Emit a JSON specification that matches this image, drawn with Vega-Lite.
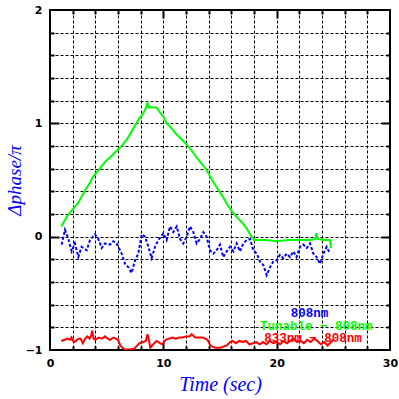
{
  "$schema": "https://vega.github.io/schema/vega-lite/v6.json",
  "autosize": "none",
  "width": 340,
  "height": 340,
  "padding": {"left": 50, "top": 10, "right": 9, "bottom": 49},
  "background": "white",
  "config": {"view": {"stroke": "black", "strokeWidth": 2}},
  "datasets": {
    "lines": [
      {"series": "808nm", "t": 1.03, "v": -0.07},
      {"series": "808nm", "t": 1.32, "v": 0.06},
      {"series": "808nm", "t": 1.62, "v": -0.02},
      {"series": "808nm", "t": 1.91, "v": -0.13},
      {"series": "808nm", "t": 2.2, "v": -0.06},
      {"series": "808nm", "t": 2.5, "v": -0.18},
      {"series": "808nm", "t": 2.79, "v": -0.09},
      {"series": "808nm", "t": 3.24, "v": -0.12},
      {"series": "808nm", "t": 3.53, "v": -0.03},
      {"series": "808nm", "t": 3.97, "v": 0.02},
      {"series": "808nm", "t": 4.26, "v": -0.02},
      {"series": "808nm", "t": 4.56, "v": -0.1},
      {"series": "808nm", "t": 4.85, "v": -0.06},
      {"series": "808nm", "t": 5.29, "v": -0.07},
      {"series": "808nm", "t": 5.59, "v": -0.04},
      {"series": "808nm", "t": 5.88, "v": -0.06},
      {"series": "808nm", "t": 6.32, "v": -0.15},
      {"series": "808nm", "t": 6.62, "v": -0.24},
      {"series": "808nm", "t": 6.91, "v": -0.27},
      {"series": "808nm", "t": 7.2, "v": -0.32},
      {"series": "808nm", "t": 7.5, "v": -0.21},
      {"series": "808nm", "t": 7.79, "v": -0.15},
      {"series": "808nm", "t": 8.09, "v": 0.02},
      {"series": "808nm", "t": 8.38, "v": 0.0},
      {"series": "808nm", "t": 8.68, "v": -0.09},
      {"series": "808nm", "t": 8.97, "v": -0.19},
      {"series": "808nm", "t": 9.26, "v": -0.09},
      {"series": "808nm", "t": 9.56, "v": -0.03},
      {"series": "808nm", "t": 10.0, "v": 0.03},
      {"series": "808nm", "t": 10.29, "v": -0.03},
      {"series": "808nm", "t": 10.59, "v": 0.09},
      {"series": "808nm", "t": 10.88, "v": 0.04},
      {"series": "808nm", "t": 11.18, "v": 0.09},
      {"series": "808nm", "t": 11.47, "v": -0.02},
      {"series": "808nm", "t": 11.76, "v": -0.06},
      {"series": "808nm", "t": 12.06, "v": 0.0},
      {"series": "808nm", "t": 12.35, "v": 0.09},
      {"series": "808nm", "t": 12.65, "v": 0.04},
      {"series": "808nm", "t": 12.94, "v": -0.06},
      {"series": "808nm", "t": 13.24, "v": -0.02},
      {"series": "808nm", "t": 13.53, "v": 0.04},
      {"series": "808nm", "t": 13.82, "v": 0.0},
      {"series": "808nm", "t": 14.12, "v": -0.12},
      {"series": "808nm", "t": 14.41, "v": -0.15},
      {"series": "808nm", "t": 14.7, "v": -0.12},
      {"series": "808nm", "t": 15.0, "v": -0.07},
      {"series": "808nm", "t": 15.29, "v": -0.18},
      {"series": "808nm", "t": 15.59, "v": -0.13},
      {"series": "808nm", "t": 15.88, "v": -0.09},
      {"series": "808nm", "t": 16.18, "v": -0.13},
      {"series": "808nm", "t": 16.47, "v": -0.06},
      {"series": "808nm", "t": 16.76, "v": -0.13},
      {"series": "808nm", "t": 17.06, "v": -0.06},
      {"series": "808nm", "t": 17.35, "v": -0.03},
      {"series": "808nm", "t": 17.65, "v": -0.02},
      {"series": "808nm", "t": 17.94, "v": -0.12},
      {"series": "808nm", "t": 18.24, "v": -0.15},
      {"series": "808nm", "t": 18.53, "v": -0.22},
      {"series": "808nm", "t": 18.82, "v": -0.25},
      {"series": "808nm", "t": 19.12, "v": -0.34},
      {"series": "808nm", "t": 19.41, "v": -0.27},
      {"series": "808nm", "t": 19.7, "v": -0.22},
      {"series": "808nm", "t": 20.0, "v": -0.21},
      {"series": "808nm", "t": 20.29, "v": -0.16},
      {"series": "808nm", "t": 20.59, "v": -0.19},
      {"series": "808nm", "t": 20.88, "v": -0.15},
      {"series": "808nm", "t": 21.18, "v": -0.18},
      {"series": "808nm", "t": 21.47, "v": -0.13},
      {"series": "808nm", "t": 21.76, "v": -0.18},
      {"series": "808nm", "t": 22.06, "v": -0.09},
      {"series": "808nm", "t": 22.35, "v": -0.07},
      {"series": "808nm", "t": 22.65, "v": -0.1},
      {"series": "808nm", "t": 22.94, "v": -0.06},
      {"series": "808nm", "t": 23.24, "v": -0.15},
      {"series": "808nm", "t": 23.53, "v": -0.18},
      {"series": "808nm", "t": 23.82, "v": -0.24},
      {"series": "808nm", "t": 24.12, "v": -0.15},
      {"series": "808nm", "t": 24.41, "v": -0.09},
      {"series": "808nm", "t": 24.71, "v": -0.15},
      {"series": "Tunable − 808nm", "t": 1.0, "v": 0.09},
      {"series": "Tunable − 808nm", "t": 1.5, "v": 0.18},
      {"series": "Tunable − 808nm", "t": 2.0, "v": 0.24},
      {"series": "Tunable − 808nm", "t": 2.5, "v": 0.3},
      {"series": "Tunable − 808nm", "t": 3.1, "v": 0.41},
      {"series": "Tunable − 808nm", "t": 3.5, "v": 0.47},
      {"series": "Tunable − 808nm", "t": 3.8, "v": 0.53},
      {"series": "Tunable − 808nm", "t": 4.3, "v": 0.59},
      {"series": "Tunable − 808nm", "t": 4.85, "v": 0.66},
      {"series": "Tunable − 808nm", "t": 5.4, "v": 0.71},
      {"series": "Tunable − 808nm", "t": 5.9, "v": 0.76},
      {"series": "Tunable − 808nm", "t": 6.4, "v": 0.81},
      {"series": "Tunable − 808nm", "t": 6.8, "v": 0.86},
      {"series": "Tunable − 808nm", "t": 7.1, "v": 0.91},
      {"series": "Tunable − 808nm", "t": 7.5, "v": 0.98},
      {"series": "Tunable − 808nm", "t": 7.8, "v": 1.03},
      {"series": "Tunable − 808nm", "t": 8.1, "v": 1.07},
      {"series": "Tunable − 808nm", "t": 8.4, "v": 1.12},
      {"series": "Tunable − 808nm", "t": 8.6, "v": 1.18},
      {"series": "Tunable − 808nm", "t": 8.7, "v": 1.14},
      {"series": "Tunable − 808nm", "t": 9.4, "v": 1.14},
      {"series": "Tunable − 808nm", "t": 9.6, "v": 1.11},
      {"series": "Tunable − 808nm", "t": 10.0, "v": 1.06},
      {"series": "Tunable − 808nm", "t": 10.3, "v": 1.0},
      {"series": "Tunable − 808nm", "t": 10.6, "v": 0.97},
      {"series": "Tunable − 808nm", "t": 11.0, "v": 0.92},
      {"series": "Tunable − 808nm", "t": 11.4, "v": 0.88},
      {"series": "Tunable − 808nm", "t": 12.0, "v": 0.82},
      {"series": "Tunable − 808nm", "t": 12.5, "v": 0.76},
      {"series": "Tunable − 808nm", "t": 13.0, "v": 0.69},
      {"series": "Tunable − 808nm", "t": 13.5, "v": 0.63},
      {"series": "Tunable − 808nm", "t": 13.8, "v": 0.59},
      {"series": "Tunable − 808nm", "t": 14.3, "v": 0.5},
      {"series": "Tunable − 808nm", "t": 14.8, "v": 0.42},
      {"series": "Tunable − 808nm", "t": 15.2, "v": 0.36},
      {"series": "Tunable − 808nm", "t": 15.6, "v": 0.29},
      {"series": "Tunable − 808nm", "t": 16.0, "v": 0.23},
      {"series": "Tunable − 808nm", "t": 16.5, "v": 0.17},
      {"series": "Tunable − 808nm", "t": 17.0, "v": 0.12},
      {"series": "Tunable − 808nm", "t": 17.3, "v": 0.08},
      {"series": "Tunable − 808nm", "t": 17.6, "v": 0.03},
      {"series": "Tunable − 808nm", "t": 17.8, "v": 0.0},
      {"series": "Tunable − 808nm", "t": 18.0, "v": -0.03},
      {"series": "Tunable − 808nm", "t": 19.0, "v": -0.03},
      {"series": "Tunable − 808nm", "t": 20.0, "v": -0.04},
      {"series": "Tunable − 808nm", "t": 21.0, "v": -0.03},
      {"series": "Tunable − 808nm", "t": 22.0, "v": -0.03},
      {"series": "Tunable − 808nm", "t": 23.0, "v": -0.03},
      {"series": "Tunable − 808nm", "t": 23.4, "v": -0.02},
      {"series": "Tunable − 808nm", "t": 23.5, "v": 0.03},
      {"series": "Tunable − 808nm", "t": 23.6, "v": -0.02},
      {"series": "Tunable − 808nm", "t": 24.2, "v": -0.03},
      {"series": "Tunable − 808nm", "t": 24.7, "v": -0.03},
      {"series": "Tunable − 808nm", "t": 24.8, "v": -0.1},
      {"series": "833nm − 808nm", "t": 1.0, "v": -0.92},
      {"series": "833nm − 808nm", "t": 1.3, "v": -0.91},
      {"series": "833nm − 808nm", "t": 1.5, "v": -0.9},
      {"series": "833nm − 808nm", "t": 1.8, "v": -0.91},
      {"series": "833nm − 808nm", "t": 1.9, "v": -0.89},
      {"series": "833nm − 808nm", "t": 2.1, "v": -0.93},
      {"series": "833nm − 808nm", "t": 2.3, "v": -0.92},
      {"series": "833nm − 808nm", "t": 2.5, "v": -0.9},
      {"series": "833nm − 808nm", "t": 2.7, "v": -0.9},
      {"series": "833nm − 808nm", "t": 2.9, "v": -0.94},
      {"series": "833nm − 808nm", "t": 3.1, "v": -0.9},
      {"series": "833nm − 808nm", "t": 3.3, "v": -0.88},
      {"series": "833nm − 808nm", "t": 3.5, "v": -0.9},
      {"series": "833nm − 808nm", "t": 3.65, "v": -0.87},
      {"series": "833nm − 808nm", "t": 3.72, "v": -0.83},
      {"series": "833nm − 808nm", "t": 3.85, "v": -0.9},
      {"series": "833nm − 808nm", "t": 4.0, "v": -0.91},
      {"series": "833nm − 808nm", "t": 4.3, "v": -0.89},
      {"series": "833nm − 808nm", "t": 4.6, "v": -0.9},
      {"series": "833nm − 808nm", "t": 4.85, "v": -0.88},
      {"series": "833nm − 808nm", "t": 5.1, "v": -0.9},
      {"series": "833nm − 808nm", "t": 5.3, "v": -0.91},
      {"series": "833nm − 808nm", "t": 5.6, "v": -0.89},
      {"series": "833nm − 808nm", "t": 5.8, "v": -0.9},
      {"series": "833nm − 808nm", "t": 6.0, "v": -0.91},
      {"series": "833nm − 808nm", "t": 6.2, "v": -0.96},
      {"series": "833nm − 808nm", "t": 6.4, "v": -0.98},
      {"series": "833nm − 808nm", "t": 6.6, "v": -0.995},
      {"series": "833nm − 808nm", "t": 7.0, "v": -0.995},
      {"series": "833nm − 808nm", "t": 7.4, "v": -0.99},
      {"series": "833nm − 808nm", "t": 7.6, "v": -0.97},
      {"series": "833nm − 808nm", "t": 7.9, "v": -0.94},
      {"series": "833nm − 808nm", "t": 8.2, "v": -0.93},
      {"series": "833nm − 808nm", "t": 8.45, "v": -0.92},
      {"series": "833nm − 808nm", "t": 8.6, "v": -0.86},
      {"series": "833nm − 808nm", "t": 8.7, "v": -0.9},
      {"series": "833nm − 808nm", "t": 8.85, "v": -0.98},
      {"series": "833nm − 808nm", "t": 9.1, "v": -0.95},
      {"series": "833nm − 808nm", "t": 9.4, "v": -0.92},
      {"series": "833nm − 808nm", "t": 9.7, "v": -0.94},
      {"series": "833nm − 808nm", "t": 9.9, "v": -0.95},
      {"series": "833nm − 808nm", "t": 10.2, "v": -0.91},
      {"series": "833nm − 808nm", "t": 10.5, "v": -0.9},
      {"series": "833nm − 808nm", "t": 10.8, "v": -0.89},
      {"series": "833nm − 808nm", "t": 11.1, "v": -0.9},
      {"series": "833nm − 808nm", "t": 11.4, "v": -0.89},
      {"series": "833nm − 808nm", "t": 11.7, "v": -0.89},
      {"series": "833nm − 808nm", "t": 12.0, "v": -0.88},
      {"series": "833nm − 808nm", "t": 12.3, "v": -0.88},
      {"series": "833nm − 808nm", "t": 12.5, "v": -0.86},
      {"series": "833nm − 808nm", "t": 12.8, "v": -0.89},
      {"series": "833nm − 808nm", "t": 13.1, "v": -0.89},
      {"series": "833nm − 808nm", "t": 13.5, "v": -0.89},
      {"series": "833nm − 808nm", "t": 13.9, "v": -0.91},
      {"series": "833nm − 808nm", "t": 14.1, "v": -0.95},
      {"series": "833nm − 808nm", "t": 14.3, "v": -0.97},
      {"series": "833nm − 808nm", "t": 14.6, "v": -0.98},
      {"series": "833nm − 808nm", "t": 15.0, "v": -0.98},
      {"series": "833nm − 808nm", "t": 15.3, "v": -0.97},
      {"series": "833nm − 808nm", "t": 15.6, "v": -0.96},
      {"series": "833nm − 808nm", "t": 15.9, "v": -0.93},
      {"series": "833nm − 808nm", "t": 16.1, "v": -0.92},
      {"series": "833nm − 808nm", "t": 16.4, "v": -0.94},
      {"series": "833nm − 808nm", "t": 16.7, "v": -0.92},
      {"series": "833nm − 808nm", "t": 17.0, "v": -0.93},
      {"series": "833nm − 808nm", "t": 17.3, "v": -0.92},
      {"series": "833nm − 808nm", "t": 17.6, "v": -0.95},
      {"series": "833nm − 808nm", "t": 17.9, "v": -0.94},
      {"series": "833nm − 808nm", "t": 18.2, "v": -0.93},
      {"series": "833nm − 808nm", "t": 18.5, "v": -0.95},
      {"series": "833nm − 808nm", "t": 18.8, "v": -0.93},
      {"series": "833nm − 808nm", "t": 19.1, "v": -0.95},
      {"series": "833nm − 808nm", "t": 19.4, "v": -0.92},
      {"series": "833nm − 808nm", "t": 19.7, "v": -0.94},
      {"series": "833nm − 808nm", "t": 20.0, "v": -0.93},
      {"series": "833nm − 808nm", "t": 20.3, "v": -0.95},
      {"series": "833nm − 808nm", "t": 20.6, "v": -0.92},
      {"series": "833nm − 808nm", "t": 20.9, "v": -0.94},
      {"series": "833nm − 808nm", "t": 21.2, "v": -0.92},
      {"series": "833nm − 808nm", "t": 21.5, "v": -0.9},
      {"series": "833nm − 808nm", "t": 21.8, "v": -0.93},
      {"series": "833nm − 808nm", "t": 22.1, "v": -0.92},
      {"series": "833nm − 808nm", "t": 22.4, "v": -0.94},
      {"series": "833nm − 808nm", "t": 22.7, "v": -0.91},
      {"series": "833nm − 808nm", "t": 23.0, "v": -0.93},
      {"series": "833nm − 808nm", "t": 23.3, "v": -0.9},
      {"series": "833nm − 808nm", "t": 23.6, "v": -0.92},
      {"series": "833nm − 808nm", "t": 23.9, "v": -0.95},
      {"series": "833nm − 808nm", "t": 24.2, "v": -0.93},
      {"series": "833nm − 808nm", "t": 24.5, "v": -0.96},
      {"series": "833nm − 808nm", "t": 24.8, "v": -0.93},
      {"series": "833nm − 808nm", "t": 25.0, "v": -0.91}
    ],
    "labels": [
      {"series": "808nm", "t": 22.9, "v": -0.672},
      {"series": "Tunable − 808nm", "t": 23.5, "v": -0.784},
      {"series": "833nm − 808nm", "t": 23.2, "v": -0.896}
    ]
  },
  "layer": [
    {
      "data": {"name": "lines"},
      "transform": [{"filter": "datum.series === '808nm'"}],
      "mark": {"type": "line", "strokeWidth": 2, "strokeDash": [3, 2], "clip": true},
      "encoding": {
        "x": {"field": "t", "type": "quantitative",
          "scale": {"domain": [0, 30], "nice": false, "zero": false},
          "axis": {"orient": "bottom", "values": [0, 10, 20, 30], "ticks": false, "domain": false, "grid": false,
            "labelFont": "DejaVu Sans", "labelFontWeight": "bold", "labelFontSize": 11, "labelColor": "black",
            "labelPadding": 7, "labelFlush": false, "labelOverlap": false,
            "title": "Time (sec)", "titleFont": "Liberation Serif", "titleFontStyle": "italic", "titleFontWeight": "normal",
            "titleFontSize": 20, "titleColor": "#0000ff", "titlePadding": 6}},
        "y": {"field": "v", "type": "quantitative",
          "scale": {"domain": [-1, 2], "nice": false, "zero": false},
          "axis": {"orient": "left", "values": [-1, 0, 1, 2], "ticks": false, "domain": false, "grid": false,
            "labelFont": "DejaVu Sans", "labelFontWeight": "bold", "labelFontSize": 11, "labelColor": "black",
            "labelPadding": 8, "labelFlush": false, "labelOverlap": false,
            "title": "Δphase/π", "titleFont": "Liberation Serif", "titleFontStyle": "italic", "titleFontWeight": "normal",
            "titleFontSize": 19, "titleColor": "#0000ff", "titlePadding": 1}},
        "color": {"field": "series", "type": "nominal",
          "scale": {"domain": ["808nm", "Tunable − 808nm", "833nm − 808nm"], "range": ["#0000ff", "#00ff00", "#ff0000"]},
          "legend": null}
      }
    },
    {
      "data": {"name": "lines"},
      "transform": [{"filter": "datum.series === 'Tunable − 808nm'"}],
      "mark": {"type": "line", "strokeWidth": 2, "clip": true},
      "encoding": {
        "x": {"field": "t", "type": "quantitative",
          "scale": {"domain": [0, 30], "nice": false, "zero": false},
          "axis": {"orient": "bottom", "values": [2, 4, 6, 8, 10, 12, 14, 16, 18, 20, 22, 24, 26, 28],
            "labels": false, "domain": false, "title": null,
            "grid": true, "gridColor": "black", "gridDash": [3, 2], "gridWidth": 1, "gridOpacity": 1,
            "ticks": true, "tickColor": "black", "tickWidth": 2,
            "tickSize": {"condition": {"test": "datum.value % 10 === 0", "value": -8}, "value": -4}}},
        "y": {"field": "v", "type": "quantitative",
          "scale": {"domain": [-1, 2], "nice": false, "zero": false},
          "axis": {"orient": "left", "values": [-0.8, -0.6, -0.4, -0.2, 0, 0.2, 0.4, 0.6, 0.8, 1, 1.2, 1.4, 1.6, 1.8],
            "labels": false, "domain": false, "title": null,
            "grid": true, "gridColor": "black", "gridDash": [3, 2], "gridWidth": 1, "gridOpacity": 1,
            "ticks": true, "tickColor": "black", "tickWidth": 2,
            "tickSize": {"condition": {"test": "abs(datum.value - round(datum.value)) < 0.01", "value": -9}, "value": -4}}},
        "color": {"field": "series", "type": "nominal",
          "scale": {"domain": ["808nm", "Tunable − 808nm", "833nm − 808nm"], "range": ["#0000ff", "#00ff00", "#ff0000"]},
          "legend": null}
      }
    },
    {
      "data": {"name": "lines"},
      "transform": [{"filter": "datum.series === '833nm − 808nm'"}],
      "mark": {"type": "line", "strokeWidth": 2, "clip": true},
      "encoding": {
        "x": {"field": "t", "type": "quantitative",
          "scale": {"domain": [0, 30], "nice": false, "zero": false},
          "axis": {"orient": "top", "values": [2, 4, 6, 8, 10, 12, 14, 16, 18, 20, 22, 24, 26, 28],
            "labels": false, "domain": false, "title": null, "grid": false,
            "ticks": true, "tickColor": "black", "tickWidth": 2,
            "tickSize": {"condition": {"test": "datum.value % 10 === 0", "value": -8}, "value": -4}}},
        "y": {"field": "v", "type": "quantitative",
          "scale": {"domain": [-1, 2], "nice": false, "zero": false},
          "axis": {"orient": "right", "values": [-0.8, -0.6, -0.4, -0.2, 0, 0.2, 0.4, 0.6, 0.8, 1, 1.2, 1.4, 1.6, 1.8],
            "labels": false, "domain": false, "title": null, "grid": false,
            "ticks": true, "tickColor": "black", "tickWidth": 2,
            "tickSize": {"condition": {"test": "abs(datum.value - round(datum.value)) < 0.01", "value": -9}, "value": -4}}},
        "color": {"field": "series", "type": "nominal",
          "scale": {"domain": ["808nm", "Tunable − 808nm", "833nm − 808nm"], "range": ["#0000ff", "#00ff00", "#ff0000"]},
          "legend": null}
      }
    },
    {
      "data": {"name": "labels"},
      "mark": {"type": "text", "font": "Liberation Mono", "fontSize": 12.5, "fontWeight": "bold", "align": "center", "baseline": "middle"},
      "encoding": {
        "x": {"field": "t", "type": "quantitative", "scale": {"domain": [0, 30], "nice": false, "zero": false}, "axis": null},
        "y": {"field": "v", "type": "quantitative", "scale": {"domain": [-1, 2], "nice": false, "zero": false}, "axis": null},
        "text": {"field": "series"},
        "color": {"field": "series", "type": "nominal",
          "scale": {"domain": ["808nm", "Tunable − 808nm", "833nm − 808nm"], "range": ["#0000ff", "#00ff00", "#ff0000"]},
          "legend": null}
      }
    }
  ],
  "resolve": {"axis": {"x": "independent", "y": "independent"}}
}
